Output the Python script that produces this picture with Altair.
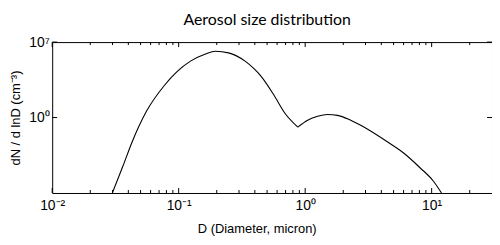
import math
import altair as alt
import pandas as pd

# Data
diameter = [0.0299, 0.0362, 0.0427, 0.0552, 0.0767, 0.0975, 0.124, 0.163, 0.195,
            0.248, 0.335, 0.396, 0.452, 0.575, 0.692, 0.875, 1.047, 1.256, 1.50,
            1.80, 2.29, 2.91, 4.43, 6.00, 8.09, 10.3, 11.97]
dn_dlnd = [1e-7, 3.0e-5, 4.9e-3, 3.2, 890, 1.9e4, 1.7e5, 7.9e5, 1.4e6,
           1.0e6, 1.7e5, 3.2e4, 5.9e3, 89, 2.5, 0.13, 0.56, 1.3, 1.9,
           1.6, 0.56, 0.13, 5.9e-3, 5.1e-4, 2.2e-5, 1.3e-6, 1e-7]
KINK = 15  # index of the sharp minimum between the two modes

title_text = ["Aerosol size distribution"]

x_major = [0.01, 0.1, 1, 10]
x_major_labels = ["10⁻²", "10⁻¹", "10⁰", "10¹"]
x_minor = [0.02, 0.03, 0.04, 0.05, 0.06, 0.07, 0.08, 0.09,
           0.2, 0.3, 0.4, 0.5, 0.6, 0.7, 0.8, 0.9,
           2, 3, 4, 5, 6, 7, 8, 9, 20]
y_major = [1, 1e7]
y_major_labels = ["10⁰", "10⁷"]

W, H = 443, 152
FONT = "Liberation Sans"


def label_expr(values, labels):
    expr = "''"
    for v, lab in zip(values, labels):
        k = round(math.log10(v))
        expr = f"round(log(datum.value)/LN10) == {k} ? '{lab}' : ({expr})"
    return expr


df = pd.concat([
    pd.DataFrame({"D": diameter[:KINK + 1], "N": dn_dlnd[:KINK + 1], "mode": "fine"}),
    pd.DataFrame({"D": diameter[KINK:], "N": dn_dlnd[KINK:], "mode": "coarse"}),
], ignore_index=True)

xscale = alt.Scale(type="log", domain=[0.01, 30], nice=False)
yscale = alt.Scale(type="log", domain=[1e-7, 1e7], nice=False)

xaxis = alt.Axis(
    values=x_major, labelExpr=label_expr(x_major, x_major_labels),
    ticks=False, domain=False, grid=False, labelFlush=False, labelOverlap=False,
    labelFont=FONT, labelFontSize=14, labelPadding=6, labelColor="black",
    title="D (Diameter, micron)", titleFont=FONT, titleFontSize=13,
    titleFontWeight="normal", titleColor="black", titleX=206, titleY=36,
    titleAlign="center", titleBaseline="middle")
yaxis = alt.Axis(
    values=y_major, labelExpr=label_expr(y_major, y_major_labels),
    ticks=False, domain=False, grid=False, labelFlush=False, labelOverlap=False,
    labelFont=FONT, labelFontSize=14, labelPadding=3, labelColor="black",
    labelBaseline="middle",
    title="dN / d lnD (cm⁻³)", titleFont=FONT, titleFontSize=13,
    titleFontWeight="normal", titleColor="black", titleX=-37, titleY=H / 2,
    titleAngle=-90, titleAlign="center", titleBaseline="middle")

line = alt.Chart(df).mark_line(color="black", strokeWidth=1.1, clip=True,
                               interpolate="monotone").encode(
    x=alt.X("D:Q", scale=xscale, axis=xaxis),
    y=alt.Y("N:Q", scale=yscale, axis=yaxis),
    detail="mode:N",
)

title = alt.Chart(pd.DataFrame({"title": title_text})).mark_text(
    font="Lato", fontSize=16, color="black", align="center",
    baseline="alphabetic").encode(
    text="title:N", x=alt.value(W / 2 - 5), y=alt.value(-17))


def xticks(vals, y0, y1):
    return alt.Chart(pd.DataFrame({"D": vals})).mark_rule(
        color="black", strokeWidth=1).encode(
        x=alt.X("D:Q", scale=xscale, axis=xaxis),
        y=alt.value(y0), y2=alt.value(y1))


def yticks(vals, x0, x1):
    return alt.Chart(pd.DataFrame({"N": vals})).mark_rule(
        color="black", strokeWidth=1).encode(
        y=alt.Y("N:Q", scale=yscale, axis=yaxis),
        x=alt.value(x0), x2=alt.value(x1))


chart = alt.layer(
    line,
    xticks(x_major, H, H - 5), xticks(x_minor, H, H - 3),
    xticks(x_major, 0, 5), xticks(x_minor, 0, 3),
    yticks(y_major, 0, 5), yticks(y_major, W, W - 5),
    title,
).properties(
    width=W, height=H,
    background="white",
    padding={"left": 44.5, "top": 33.5, "right": 0, "bottom": 45},
    autosize=alt.AutoSizeParams(type="none"),
).configure_view(stroke="black", strokeWidth=1)

chart.save("out.html", embed_options={"renderer": "svg", "actions": False})
